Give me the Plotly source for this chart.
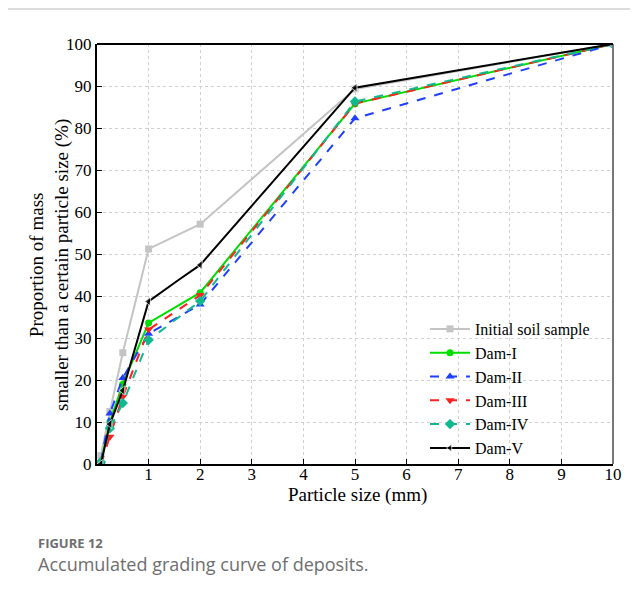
import plotly.graph_objects as go

sizes = [0.075, 0.25, 0.5, 1, 2, 5, 10]
initial = [2, 12.5, 26.5, 51.2, 57.1, 89.3, 100]
dam1 = [0.5, 10, 19, 33.6, 40.8, 85.8, 100]
dam2 = [0.5, 12, 20.5, 31, 38, 82.3, 100]
dam3 = [0, 6.5, 16, 32, 40.2, 85.8, 100]
dam4 = [0.5, 8.5, 14.5, 29.5, 38.8, 86.3, 100]
dam5_x = [0.075, 0.25, 0.5, 1, 1.6, 2, 5, 10]
dam5 = [0, 9.5, 17.5, 38.7, 44, 47.4, 89.6, 100]
dam5_marker = [8, 8, 8, 8, 0, 8, 8, 8]

x_ticks = [1, 2, 3, 4, 5, 6, 7, 8, 9, 10]
y_ticks = [0, 10, 20, 30, 40, 50, 60, 70, 80, 90, 100]

SERIF = "Liberation Serif"

fig = go.Figure()
series = [
    ("Initial soil sample", sizes, initial, "#c4c4c4", "solid", "square", 7),
    ("Dam-I", sizes, dam1, "#00dd00", "solid", "circle", 7),
    ("Dam-II", sizes, dam2, "#1f3fff", "dash", "triangle-up", 8),
    ("Dam-III", sizes, dam3, "#ff2020", "dash", "triangle-down", 8),
    ("Dam-IV", sizes, dam4, "#10b890", "dash", "diamond", 8),
    ("Dam-V", dam5_x, dam5, "#000000", "solid", "triangle-left", dam5_marker),
]
for name, xs, ys, col, dash, sym, ms in series:
    fig.add_trace(go.Scatter(
        x=xs, y=ys, name=name, mode="lines+markers",
        line=dict(color=col, width=2, dash=dash),
        marker=dict(symbol=sym, size=ms, color=col),
    ))

OFF = 7
W, H = 638, 595
L, T = 96 - OFF, 43 - OFF
pw, ph = 516, 420
R = W - L - pw
B = H - T - ph

def px(x):
    return (x - OFF - L) / pw

def py(y):
    return (T + ph - (y - OFF)) / ph

fig.update_layout(
    width=W, height=H,
    margin=dict(l=L, r=R, t=T, b=B),
    paper_bgcolor="white", plot_bgcolor="white",
    font=dict(family=SERIF, size=16, color="black"),
    showlegend=True,
    legend=dict(x=px(424), y=py(311), xanchor="left", yanchor="top",
                bgcolor="rgba(255,255,255,0)", borderwidth=0, itemwidth=40,
                font=dict(family=SERIF, size=16, color="black"),
                tracegroupgap=0, itemsizing="trace"),
    xaxis=dict(range=[0, 10], tickvals=x_ticks, ticks="inside", ticklen=5,
               tickcolor="black", showline=True, linecolor="black", linewidth=2,
               mirror=False, showgrid=True, gridcolor="#d0d0d0", griddash="dot",
               gridwidth=1, zeroline=False, ticklabelstandoff=-6,
               tickfont=dict(family=SERIF, size=17, color="black")),
    yaxis=dict(range=[0, 100], tickvals=y_ticks, ticks="inside", ticklen=5,
               tickcolor="black", showline=True, linecolor="black", linewidth=2,
               showgrid=True, gridcolor="#d0d0d0", griddash="dot", gridwidth=1,
               zeroline=False,
               tickfont=dict(family=SERIF, size=17, color="black")),
    shapes=[
        dict(type="rect", xref="paper", yref="paper", x0=px(425), x1=px(610),
             y0=py(457), y1=py(319), layer="between",
             fillcolor="white", line=dict(width=0)),
        dict(type="line", xref="paper", yref="paper", x0=1, x1=1, y0=0, y1=1,
             line=dict(color="#777777", width=2)),
        dict(type="line", xref="paper", yref="paper", x0=0, x1=1, y0=1, y1=1,
             line=dict(color="black", width=2)),
        dict(type="line", xref="paper", yref="paper", x0=px(4), x1=px(4),
             y0=py(8), y1=py(600), line=dict(color="#b8b8b8", width=1)),
        dict(type="line", xref="paper", yref="paper", x0=px(4), x1=px(640),
             y0=py(8), y1=py(8), line=dict(color="#b8b8b8", width=1)),
    ],
    annotations=[
        dict(text="Proportion of mass<br>smaller than a certain particle size (%)",
             xref="paper", yref="paper", x=px(48), y=py(264), textangle=-90,
             xanchor="center", yanchor="middle", showarrow=False,
             font=dict(family=SERIF, size=19, color="black")),
        dict(text="Particle size (mm)", xref="paper", yref="paper",
             x=px(356), y=py(494), xanchor="center", yanchor="middle",
             showarrow=False, font=dict(family=SERIF, size=19, color="black")),
        dict(text="<b>FIGURE 12</b>", xref="paper", yref="paper", x=px(35), y=py(542),
             xanchor="left", yanchor="middle", showarrow=False,
             font=dict(family="Open Sans", size=13, color="#6e6e6e")),
        dict(text="Accumulated grading curve of deposits.", xref="paper", yref="paper",
             x=px(35), y=py(563), xanchor="left", yanchor="middle", showarrow=False,
             font=dict(family="Open Sans", size=18, color="#6e6e6e")),
    ],
)

fig.write_html("out.html")
